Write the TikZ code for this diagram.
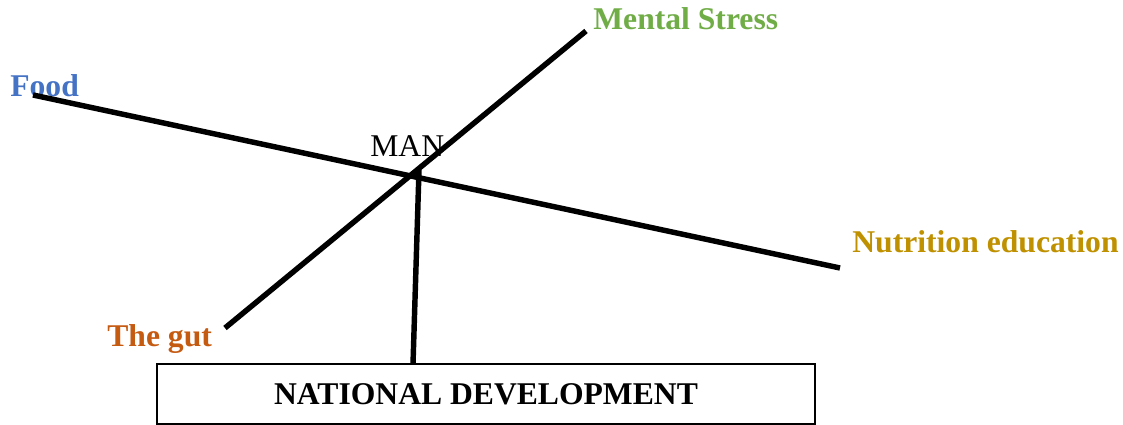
\documentclass[tikz,border=0pt]{standalone}
\usepackage{fontspec}
\setmainfont{Liberation Serif}
\usepackage{xcolor}
\usepackage{tikz}
\usetikzlibrary{positioning}
\definecolor{foodblue}{HTML}{4472C4}
\definecolor{stressgreen}{HTML}{70AD47}
\definecolor{nutrigold}{HTML}{BF9000}
\definecolor{gutorange}{HTML}{C55A11}
\tikzset{
  spoke/.style={draw=black, line width=3.1pt},
  lbl/.style={font=\fontsize{18}{21}\selectfont\bfseries, inner sep=0pt, anchor=base west},
  manlbl/.style={font=\fontsize{18}{21}\selectfont, inner sep=0pt, anchor=base west},
  devbox/.style={rectangle, fill=white, draw=black, line width=0.6pt, minimum width=13.16cm, minimum height=1.2cm, inner sep=0pt, font=\fontsize{18}{21}\selectfont\bfseries}
}

\begin{document}
\begin{tikzpicture}
  \useasboundingbox (0,0) rectangle (22.46,8.5);
  % ends of the crossing lines
  \coordinate (food) at (0.66,6.60);
  \coordinate (nutri) at (16.80,3.14);
  \coordinate (stress) at (11.72,7.88);
  \coordinate (gut) at (4.50,1.94);
  \coordinate (man) at (8.38,5.10);
  \node[devbox] (nd) at (9.72,0.62) {NATIONAL DEVELOPMENT};
  \coordinate (ndtop) at (8.26,1.22);
  % labels
  \node[lbl, text=foodblue] (lfood) at (0.20,6.56) {Food};
  \node[lbl, text=stressgreen] (lstress) at (11.86,7.90) {Mental Stress};
  \node[lbl, text=nutrigold] (lnutri) at (17.04,3.44) {Nutrition education};
  \node[lbl, text=gutorange] (lgut) at (2.14,1.56) {The gut};
  \node[manlbl] (lman) at (7.40,5.36) {MAN};
  \draw[spoke] (food)--(nutri);
  \draw[spoke] (gut)--(stress);
  \draw[spoke] (man)--(ndtop);
\end{tikzpicture}
\end{document}
